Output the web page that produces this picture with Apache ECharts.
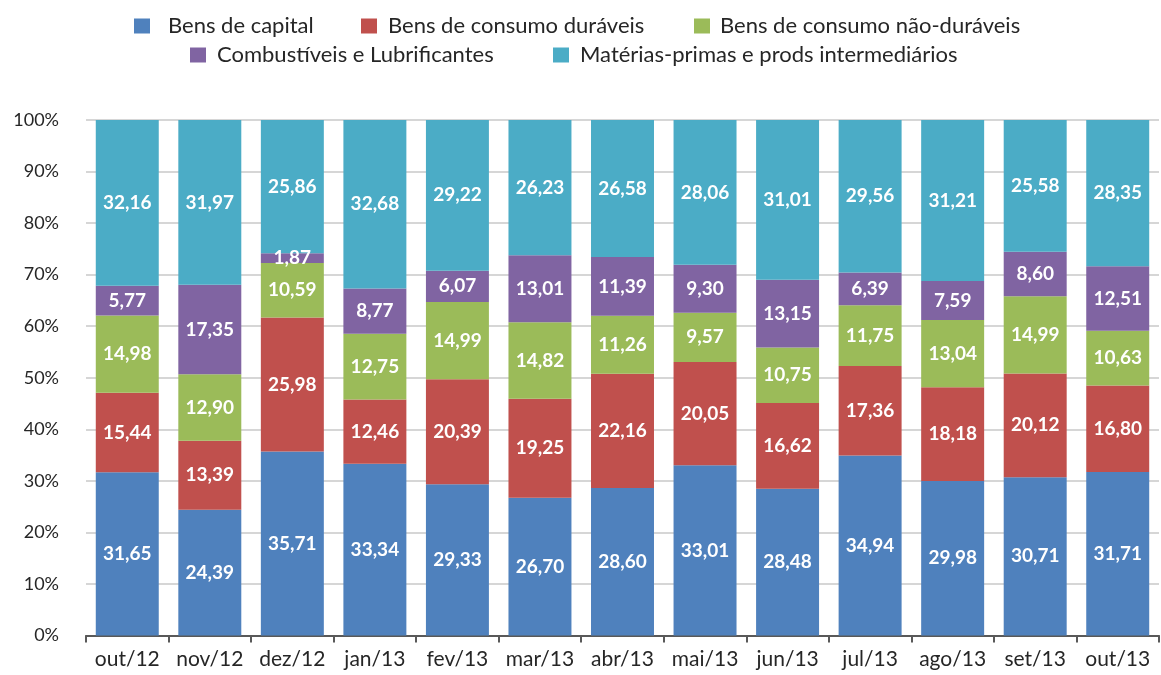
<!DOCTYPE html>
<html>
<head>
<meta charset="utf-8">
<script src="https://cdn.jsdelivr.net/npm/echarts@6/dist/echarts.min.js"></script>
<style>html,body{margin:0;padding:0;background:#fff}#c{width:1161px;height:675px}</style>
</head>
<body>
<div id="c"></div>
<script>
const categories = ['out/12','nov/12','dez/12','jan/13','fev/13','mar/13','abr/13','mai/13','jun/13','jul/13','ago/13','set/13','out/13'];
const seriesNames = ['Bens de capital','Bens de consumo duráveis','Bens de consumo não-duráveis','Combustíveis e Lubrificantes','Matérias-primas e prods intermediários'];
const bensCapital = [31.65, 24.39, 35.71, 33.34, 29.33, 26.70, 28.60, 33.01, 28.48, 34.94, 29.98, 30.71, 31.71];
const consumoDuraveis = [15.44, 13.39, 25.98, 12.46, 20.39, 19.25, 22.16, 20.05, 16.62, 17.36, 18.18, 20.12, 16.80];
const consumoNaoDuraveis = [14.98, 12.90, 10.59, 12.75, 14.99, 14.82, 11.26, 9.57, 10.75, 11.75, 13.04, 14.99, 10.63];
const combustiveis = [5.77, 17.35, 1.87, 8.77, 6.07, 13.01, 11.39, 9.30, 13.15, 6.39, 7.59, 8.60, 12.51];
const materiasPrimas = [32.16, 31.97, 25.86, 32.68, 29.22, 26.23, 26.58, 28.06, 31.01, 29.56, 31.21, 25.58, 28.35];
const yTicks = [0,10,20,30,40,50,60,70,80,90,100];

const colors = ['#4F81BD','#C0504D','#9BBB59','#8064A2','#4BACC6'];
const allData = [bensCapital, consumoDuraveis, consumoNaoDuraveis, combustiveis, materiasPrimas];
const FONT = 'Lato';

const legendPos = [
  {left:134, top:15, pad:13},
  {left:361, top:15, pad:6},
  {left:694, top:15, pad:5},
  {left:190, top:44, pad:6},
  {left:553, top:44, pad:6}
];
const legends = seriesNames.map((n,i)=>({
  data:[n], left:legendPos[i].left, top:legendPos[i].top,
  itemWidth:16, itemHeight:15, icon:'rect', padding:0,
  textStyle:{fontFamily:FONT, fontSize:22, color:'#262626', padding:[0,0,0,legendPos[i].pad]}
}));

const chart = echarts.init(document.getElementById('c'), null, {renderer:'canvas'});
chart.setOption({
  animation:false,
  legend: legends,
  grid:{left:86, right:2, top:120, bottom:39.5, containLabel:false},
  xAxis:{
    type:'category', data:categories,
    axisLine:{lineStyle:{color:'#595959', width:2}},
    axisTick:{show:true, interval:0, length:7, lineStyle:{color:'#595959', width:2}},
    axisLabel:{interval:0, fontFamily:FONT, fontSize:21, color:'#262626', margin:13}
  },
  yAxis:{
    type:'value', min:0, max:100, interval:10,
    axisLine:{show:false}, axisTick:{show:false},
    axisLabel:{formatter: v => yTicks.includes(v) ? v + '%' : '', fontFamily:FONT, fontSize:18, color:'#262626', margin:27},
    splitLine:{lineStyle:{color:'#c8c8c8', width:1.5}}
  },
  series: seriesNames.map((n,i)=>({
    name:n, type:'bar', stack:'total', data:allData[i],
    barCategoryGap:'23.7%',
    itemStyle:{color:colors[i]},
    label:{show:true, position:'inside', color:'#fff', fontFamily:FONT, fontWeight:'bold', fontSize:19,
      formatter: p => p.value.toFixed(2).replace('.', ',')}
  }))
});
</script>
</body>
</html>
